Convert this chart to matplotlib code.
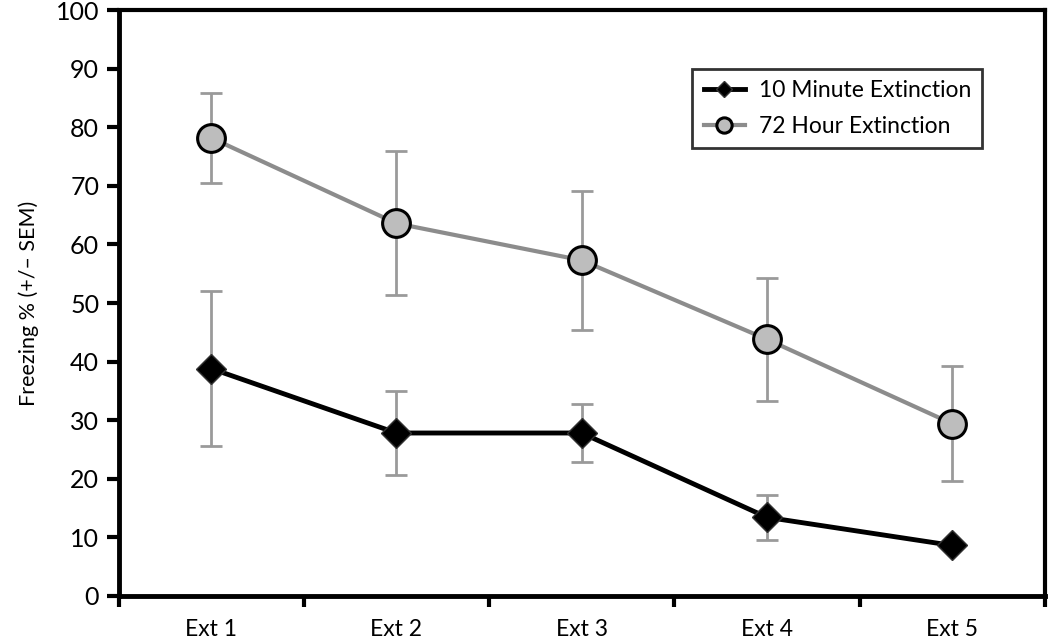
import matplotlib.pyplot as plt
import numpy as np

plt.rcParams['font.family'] = ['Lato', 'DejaVu Sans']

# data
sessions = ['Ext 1', 'Ext 2', 'Ext 3', 'Ext 4', 'Ext 5']
min10_mean = [38.8, 27.8, 27.8, 13.4, 8.6]
min10_sem = [13.3, 7.2, 4.9, 3.8, 0.5]
hr72_mean = [78.2, 63.6, 57.3, 43.8, 29.4]
hr72_sem = [7.7, 12.3, 11.9, 10.5, 9.8]

x = np.arange(len(sessions))

fig, ax = plt.subplots(figsize=(10.5, 6.42), dpi=100)
fig.subplots_adjust(left=0.113, right=0.995, bottom=0.072, top=0.984)

# error bars first (gray), then lines and markers on top
ax.errorbar(x, hr72_mean, yerr=hr72_sem, fmt='none', ecolor='#9a9a9a',
            elinewidth=2, capsize=8, capthick=2, zorder=1)
ax.errorbar(x, min10_mean, yerr=min10_sem, fmt='none', ecolor='#9a9a9a',
            elinewidth=2, capsize=8, capthick=2, zorder=1)

ax.plot(x, min10_mean, color='black', lw=3.5, marker='D', markersize=15,
        markerfacecolor='black', markeredgecolor='#333333', zorder=3,
        label='10 Minute Extinction')
ax.plot(x, hr72_mean, color='#8c8c8c', lw=3, marker='o', markersize=20,
        markerfacecolor='#bdbdbd', markeredgecolor='black', markeredgewidth=2.2,
        zorder=3, label='72 Hour Extinction')

ax.set_xlim(-0.5, len(sessions) - 0.5)
ax.set_ylim(0, 100)
ax.set_yticks(np.arange(0, 101, 10))
ax.set_xticks(np.arange(-0.5, len(sessions), 1))
ax.set_xticklabels([])
ax.set_xticks(x, minor=True)
ax.set_xticklabels(sessions, minor=True)
ax.tick_params(axis='x', which='minor', length=0, pad=17, labelsize=16.5)
ax.tick_params(axis='x', which='major', direction='out', length=8, width=3)
ax.tick_params(axis='y', direction='out', length=9, width=3, labelsize=18, pad=5)

ax.set_ylabel('Freezing % (+/\u2013 SEM)', fontsize=15.5, labelpad=12)

for side in ['left', 'bottom']:
    ax.spines[side].set_linewidth(3.5)
for side in ['top', 'right']:
    ax.spines[side].set_linewidth(3)

leg = ax.legend(loc='upper right', bbox_to_anchor=(0.945, 0.92), fontsize=16.5,
                frameon=True, fancybox=False, edgecolor='black', handlelength=1.8,
                markerscale=0.55, borderpad=0.5, labelspacing=0.65,
                handletextpad=0.6)
leg.get_frame().set_linewidth(2)

fig.savefig('out.png', dpi=100)
